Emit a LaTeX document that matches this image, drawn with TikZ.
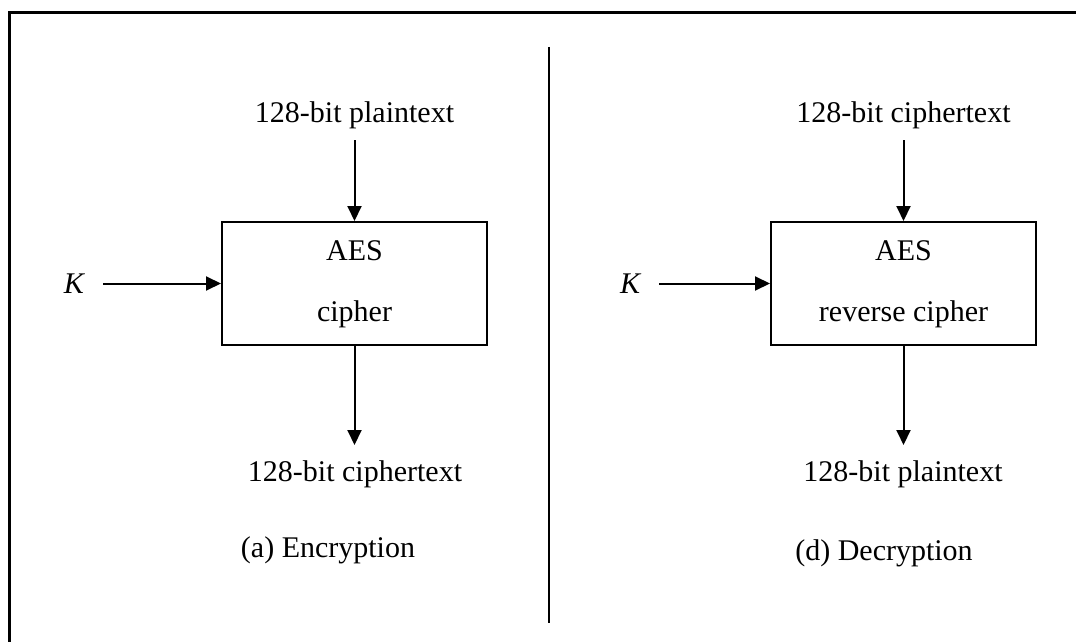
\documentclass[tikz,border=0pt]{standalone}
\usepackage{fontspec}
\setmainfont{Liberation Serif}
\usetikzlibrary{arrows.meta}
\begin{document}
\begin{tikzpicture}[x=1pt,y=-1pt,
  lbl/.style={font=\fontsize{30}{36}\selectfont, inner sep=0pt, anchor=base},
  blk/.style={draw, line width=2pt, minimum width=265pt, minimum height=123pt, inner sep=0pt},
  flow/.style={line width=2pt, -{Triangle[length=15pt,width=14pt]}},
  frame/.style={line width=3pt}]
\useasboundingbox (0,0) rectangle (1076,642);
% outer frame (top and left edges) and the central divider
\draw[frame] (9,642) -- (9,12.5) -- (1076,12.5);
\draw[line width=2.5pt] (549,47) -- (549,623);

% ---- encryption ----
\node[blk] (enc) at (354.5,283.5) {};
\node[lbl] (encin)  at (354.5,122) {128-bit plaintext};
\node[lbl] (encaes) at (354.5,260) {AES};
\node[lbl] (encop)  at (354.5,321) {cipher};
\node[lbl] (encout) at (355,481) {128-bit ciphertext};
\node[lbl] (enck)   at (74,293) {\itshape K};
\node[lbl] (enccap) at (328,557) {(a) Encryption};
\draw[flow, shorten <=11.5pt] (encin.south) -- (enc.north);
\draw[flow] (enc.south) -- ++(0,99);
\draw[flow, shorten <=19pt] (enck.east |- enc.west) -- (enc.west);

% ---- decryption ----
\node[blk] (dec) at (903.5,283.5) {};
\node[lbl] (decin)  at (903.5,122) {128-bit ciphertext};
\node[lbl] (decaes) at (903.5,260) {AES};
\node[lbl] (decop)  at (903.5,321) {reverse cipher};
\node[lbl] (decout) at (903,481) {128-bit plaintext};
\node[lbl] (deck)   at (630,293) {\itshape K};
\node[lbl] (deccap) at (884,560) {(d) Decryption};
\draw[flow, shorten <=11.5pt] (decin.south) -- (dec.north);
\draw[flow] (dec.south) -- ++(0,99);
\draw[flow, shorten <=19pt] (deck.east |- dec.west) -- (dec.west);
\end{tikzpicture}
\end{document}
